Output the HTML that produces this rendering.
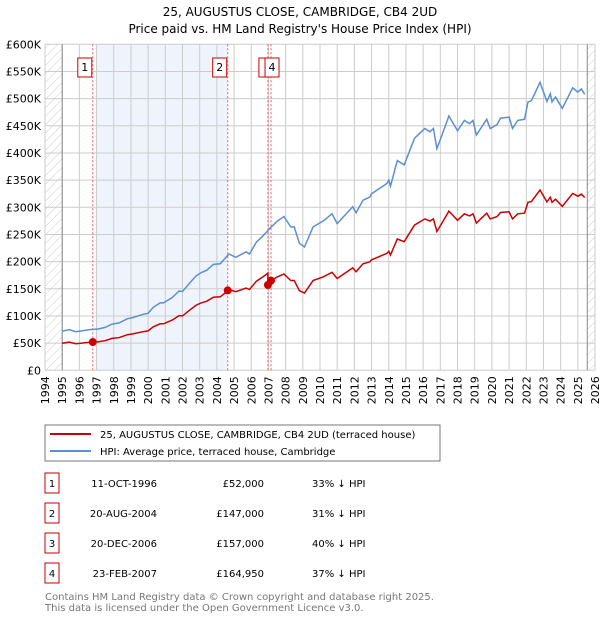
<!DOCTYPE html>
<html><head><meta charset="utf-8"><style>
body{margin:0;background:#fff;width:600px;height:620px;overflow:hidden;font-family:"DejaVu Sans","Liberation Sans",sans-serif;}
svg text{font-family:"DejaVu Sans","Liberation Sans",sans-serif;}
</style></head><body>
<svg id="chart" width="600" height="620" xmlns="http://www.w3.org/2000/svg">
<defs><pattern id="hatch" width="6" height="6" patternUnits="userSpaceOnUse" patternTransform="rotate(45)"><line x1="0" y1="0" x2="0" y2="6" stroke="#ccc" stroke-width="1"/></pattern></defs>
<text x="300" y="16" text-anchor="middle" font-size="12">25, AUGUSTUS CLOSE, CAMBRIDGE, CB4 2UD</text>
<text x="300" y="33" text-anchor="middle" font-size="12">Price paid vs. HM Land Registry's House Price Index (HPI)</text>
<g id="plot"></g>
<g>
<rect x="45" y="425" width="395" height="36" fill="#fff" stroke="#777"/>
<line x1="50" y1="434" x2="91" y2="434" stroke="#cc0000" stroke-width="2"/>
<text x="100" y="438" font-size="10">25, AUGUSTUS CLOSE, CAMBRIDGE, CB4 2UD (terraced house)</text>
<line x1="50" y1="451" x2="91" y2="451" stroke="#5b8fd0" stroke-width="2"/>
<text x="100" y="455" font-size="10">HPI: Average price, terraced house, Cambridge</text>
</g>
<g id="table"></g>
<text x="45" y="600" font-size="10" fill="#777">Contains HM Land Registry data © Crown copyright and database right 2025.</text>
<text x="45" y="611" font-size="10" fill="#777">This data is licensed under the Open Government Licence v3.0.</text>
</svg>
<script>
const hpiYears=[1995.0,1995.4,1995.8,1996.6,1997.1,1997.5,1997.9,1998.3,1998.8,1999.1,1999.7,2000.0,2000.3,2000.7,2000.9,2001.4,2001.8,2002.0,2002.4,2002.8,2003.1,2003.4,2003.8,2004.2,2004.7,2005.1,2005.7,2005.9,2006.3,2006.7,2007.1,2007.5,2007.9,2008.3,2008.5,2008.8,2009.1,2009.6,2010.2,2010.7,2011.0,2011.9,2012.1,2012.5,2012.9,2013.0,2013.9,2014.0,2014.1,2014.5,2014.9,2015.5,2016.1,2016.4,2016.6,2016.8,2017.1,2017.5,2018.0,2018.4,2018.7,2018.9,2019.1,2019.7,2019.9,2020.3,2020.5,2021.0,2021.2,2021.5,2021.9,2022.1,2022.3,2022.8,2023.2,2023.4,2023.5,2023.7,2024.1,2024.7,2025.0,2025.2,2025.4];
const hpiValues=[72,75,71,75,76,79,85,87,95,97,103,105,116,124,124,134,146,145,160,174,180,184,195,196,214,208,218,214,236,248,262,274,283,264,264,234,227,264,275,288,270,301,290,313,319,325,344,350,339,386,378,427,445,439,445,408,433,468,441,460,454,460,433,462,445,452,464,466,445,460,462,494,496,530,495,509,494,503,482,520,512,518,508];
const saleLabels=["1","2","3","4"];
const saleYears=[1996.78,2004.63,2006.97,2007.15];
const salePrices=[52000,147000,157000,164950];
const saleDates=["11-OCT-1996","20-AUG-2004","20-DEC-2006","23-FEB-2007"];
const salePriceText=["£52,000","£147,000","£157,000","£164,950"];
const saleDiffText=["33% ↓ HPI","31% ↓ HPI","40% ↓ HPI","37% ↓ HPI"];
const yTicks=[0,50,100,150,200,250,300,350,400,450,500,550,600];
const yTickLabels=["£0","£50K","£100K","£150K","£200K","£250K","£300K","£350K","£400K","£450K","£500K","£550K","£600K"];
const xTicks=[1994,1995,1996,1997,1998,1999,2000,2001,2002,2003,2004,2005,2006,2007,2008,2009,2010,2011,2012,2013,2014,2015,2016,2017,2018,2019,2020,2021,2022,2023,2024,2025,2026];

const NS="http://www.w3.org/2000/svg";
const L=45,R=595,T=44.3,B=370.3;
const xs=y=>L+(y-1994)/(2026-1994)*(R-L);
const ys=v=>B-v/600*(B-T);
const plot=document.getElementById('plot');
function mk(tag,at,parent){const e=document.createElementNS(NS,tag);for(const k in at)e.setAttribute(k,at[k]);(parent||plot).appendChild(e);return e;}

let e=mk('rect',{x:L,y:T,width:R-L,height:B-T,fill:'#fff'});


e=mk('rect',{x:xs(1994),y:T,width:xs(1995)-xs(1994),height:B-T,fill:'url(#hatch)'});


e=mk('rect',{x:xs(2025.55),y:T,width:R-xs(2025.55),height:B-T,fill:'url(#hatch)'});


e=mk('rect',{x:xs(saleYears[0])+3,y:T,width:xs(saleYears[1])-xs(saleYears[0])-3,height:B-T,fill:'#eef3fc'});



xTicks.forEach(t=>{
 mk('line',{x1:xs(t),y1:T,x2:xs(t),y2:B,stroke:'#ccc','stroke-width':1});
 const tx=mk('text',{x:0,y:0,'font-size':11,'text-anchor':'end',transform:`translate(${xs(t)+4},${B+6}) rotate(-90)`});
 tx.textContent=t;
 
 
});
yTicks.forEach((t,i)=>{
 mk('line',{x1:L,y1:ys(t),x2:R,y2:ys(t),stroke:'#ccc','stroke-width':1});
 const tx=mk('text',{x:41,y:ys(t)+4,'font-size':11,'text-anchor':'end'});
 tx.textContent=yTickLabels[i];
 
 
});
mk('line',{x1:xs(1995),y1:T,x2:xs(1995),y2:B,stroke:'#888'});
mk('line',{x1:xs(2025.55),y1:T,x2:xs(2025.55),y2:B,stroke:'#888'});

saleYears.forEach((y,i)=>{
 const ln=mk('line',{x1:xs(y),y1:T,x2:xs(y),y2:B,stroke:'#e06060','stroke-dasharray':'2,2'});
 
 
});
// HPI line
const hp=hpiYears.map((y,i)=>xs(y).toFixed(1)+','+ys(hpiValues[i]).toFixed(1)).join(' ');
e=mk('polyline',{points:hp,fill:'none',stroke:'#5b8fd0','stroke-width':1.5});


// price-paid line: HPI indexed from each sale
function hpiAt(y){for(let i=1;i<hpiYears.length;i++){if(y<=hpiYears[i]){const a=hpiYears[i-1],b=hpiYears[i];return hpiValues[i-1]+(hpiValues[i]-hpiValues[i-1])*(y-a)/(b-a);}}return hpiValues[hpiValues.length-1];}
const factors=saleYears.map((y,i)=>salePrices[i]/1000/hpiAt(y));
function factorAt(y){let f=factors[0];saleYears.forEach((s,i)=>{if(y>=s)f=factors[i];});return f;}
const pts=[];
const allY=hpiYears.concat(saleYears).sort((a,b)=>a-b);
allY.forEach(y=>{
 const si=saleYears.indexOf(y);
 if(si>0){pts.push([y,hpiAt(y)*factors[si-1]]);}
 pts.push([y,hpiAt(y)*factorAt(y)]);
});
e=mk('polyline',{points:pts.map(p=>xs(p[0]).toFixed(1)+','+ys(p[1]).toFixed(1)).join(' '),fill:'none',stroke:'#cc0000','stroke-width':1.5});


saleYears.forEach((y,i)=>{
 const c=mk('circle',{cx:xs(y),cy:ys(salePrices[i]/1000),r:4,fill:'#cc0000'});
 
 
});
[0,1,3].forEach(i=>{
 const bx=xs(saleYears[i])-(i===3?-1:15);
 if(i===3) mk('rect',{x:xs(saleYears[2])-9,y:58,width:14,height:19,fill:'#fff',stroke:'#cc0000'});
 const r=mk('rect',{x:i===3?xs(saleYears[3])-6:bx,y:58,width:14,height:19,fill:'#fff',stroke:'#cc0000'});
 
 
 const t=mk('text',{x:(i===3?xs(saleYears[3])-6:bx)+7,y:71,'font-size':11,'text-anchor':'middle'});
 t.textContent=saleLabels[i];
});

const tb=document.getElementById('table');
saleLabels.forEach((lab,i)=>{
 const y=483+i*30;
 const r=mk('rect',{x:45,y:y-10,width:14,height:20,fill:'#fff',stroke:'#cc0000'},tb);
 
 
 let t=mk('text',{x:52,y:y+4,'font-size':10,'text-anchor':'middle'},tb);t.textContent=lab;
 t=mk('text',{x:157,y:y+4,'font-size':10,'text-anchor':'end'},tb);t.textContent=saleDates[i];
 
 
 t=mk('text',{x:264,y:y+4,'font-size':10,'text-anchor':'end'},tb);t.textContent=salePriceText[i];
 
 
 t=mk('text',{x:312,y:y+4,'font-size':10},tb);t.textContent=saleDiffText[i];
 
 
});
</script>
</body></html>
